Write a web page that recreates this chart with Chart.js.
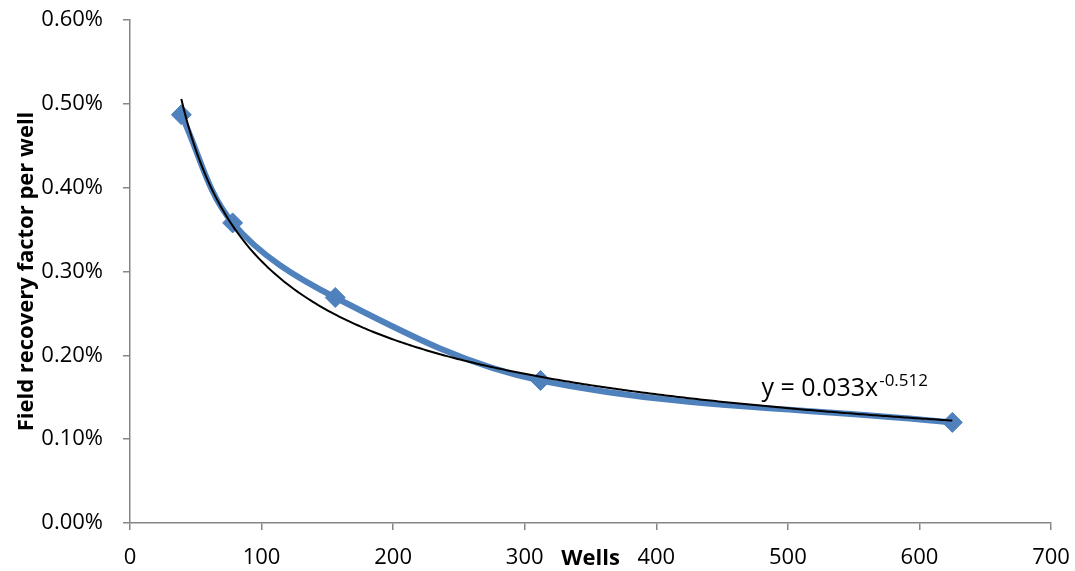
<!DOCTYPE html>
<html>
<head>
<meta charset="utf-8">
<title>Field recovery factor per well</title>
<script src="https://cdn.jsdelivr.net/npm/chart.js@4.4.1/dist/chart.umd.min.js"></script>
<style>
  html, body { margin: 0; padding: 0; background: #fff; }
  #wrap { width: 1075px; height: 571px; }
</style>
</head>
<body>
<div id="wrap"><canvas id="recoveryChart"></canvas></div>
<script>
// Recovery factor per well vs. number of wells, with power-law trend

const wells = [39, 78, 156, 312, 625];
const recoveryPerWell = [0.00487, 0.00358, 0.00269, 0.0017, 0.0012];

// power trend y = a * x^b
const trendCoef = 0.033;
const trendExp = -0.512;

const xTicks = [0, 100, 200, 300, 400, 500, 600, 700];
const yTicks = [0, 0.001, 0.002, 0.003, 0.004, 0.005, 0.006];

const blue = '#4F81BD';
const axisGrey = '#868686';
const font = "'Open Sans', sans-serif";

// trend curve across the fitted range
const trendPoints = [];
for (let x = wells[0]; x <= wells[wells.length - 1]; x += 2) {
    trendPoints.push({ x: x, y: trendCoef * Math.pow(x, trendExp) });
}
trendPoints.push({ x: wells[wells.length - 1], y: trendCoef * Math.pow(wells[wells.length - 1], trendExp) });

const seriesPoints = wells.map((w, i) => ({ x: w, y: recoveryPerWell[i] }));

// axis titles and the trend equation are drawn by hand
const annotations = {
    id: 'annotations',
    afterDatasetsDraw(chart) {
        const ctx = chart.ctx;
        const xs = chart.scales.x;
        const ys = chart.scales.y;
        const area = chart.chartArea;
        ctx.save();
        ctx.fillStyle = '#000';

        // y axis title
        ctx.save();
        ctx.translate(33, (area.top + area.bottom) / 2);
        ctx.rotate(-Math.PI / 2);
        ctx.font = "bold 22px " + font;
        ctx.textAlign = 'center';
        ctx.textBaseline = 'alphabetic';
        ctx.fillText('Field recovery factor per well', 0, 0);
        ctx.restore();

        // x axis title, sitting in the tick label row
        ctx.font = "bold 22px " + font;
        ctx.textAlign = 'center';
        ctx.textBaseline = 'alphabetic';
        ctx.fillText('Wells', xs.getPixelForValue(350), area.bottom + 42);

        // trend equation
        const ex = xs.getPixelForValue(480);
        const ey = ys.getPixelForValue(0.00152);
        ctx.textAlign = 'left';
        ctx.font = "25px " + font;
        const main = 'y = ' + trendCoef + 'x';
        ctx.fillText(main, ex, ey);
        const w = ctx.measureText(main).width;
        ctx.font = "17px " + font;
        ctx.fillText(String(trendExp), ex + w + 1, ey - 10);
        ctx.restore();
    }
};

const config = {
    type: 'scatter',
    data: {
        datasets: [{
            label: 'Power trend',
            data: trendPoints,
            showLine: true,
            borderColor: '#000',
            borderWidth: 2,
            pointRadius: 0,
            tension: 0,
            order: 0
        }, {
            label: 'Recovery factor per well',
            data: seriesPoints,
            showLine: true,
            borderColor: blue,
            borderWidth: 6,
            backgroundColor: blue,
            pointStyle: 'rectRot',
            pointRadius: 10,
            pointBorderWidth: 1,
            pointBorderColor: blue,
            tension: 0.35,
            order: 1
        }]
    },
    plugins: [annotations],
    options: {
        responsive: true,
        maintainAspectRatio: false,
        animation: false,
        layout: { padding: { left: 0, top: 20, right: 24, bottom: 0 } },
        plugins: {
            legend: { display: false },
            tooltip: { enabled: false }
        },
        scales: {
            x: {
                type: 'linear',
                min: 0,
                max: 700,
                afterFit(scale) {
                    scale.height = 48;
                    scale.paddingLeft = 0;
                    scale.paddingRight = 0;
                },
                afterBuildTicks(scale) { scale.ticks = xTicks.map(v => ({ value: v })); },
                grid: { drawOnChartArea: false, drawTicks: true, tickLength: 7, color: axisGrey, lineWidth: 1.5 },
                border: { color: axisGrey, width: 1.5 },
                ticks: {
                    color: '#000',
                    padding: 15,
                    maxRotation: 0,
                    font: { family: font, size: 22 }
                }
            },
            y: {
                min: 0,
                max: 0.006,
                afterFit(scale) {
                    scale.width = 130;
                    scale.paddingTop = 0;
                    scale.paddingBottom = 0;
                },
                afterBuildTicks(scale) { scale.ticks = yTicks.map(v => ({ value: v })); },
                grid: { drawOnChartArea: false, drawTicks: true, tickLength: 7, color: axisGrey, lineWidth: 1.5 },
                border: { color: axisGrey, width: 1.5 },
                ticks: {
                    color: '#000',
                    padding: 20,
                    font: { family: font, size: 22 },
                    callback: v => (v * 100).toFixed(2) + '%'
                }
            }
        }
    }
};

var recoveryChart = new Chart(document.getElementById('recoveryChart'), config);
</script>
</body>
</html>
